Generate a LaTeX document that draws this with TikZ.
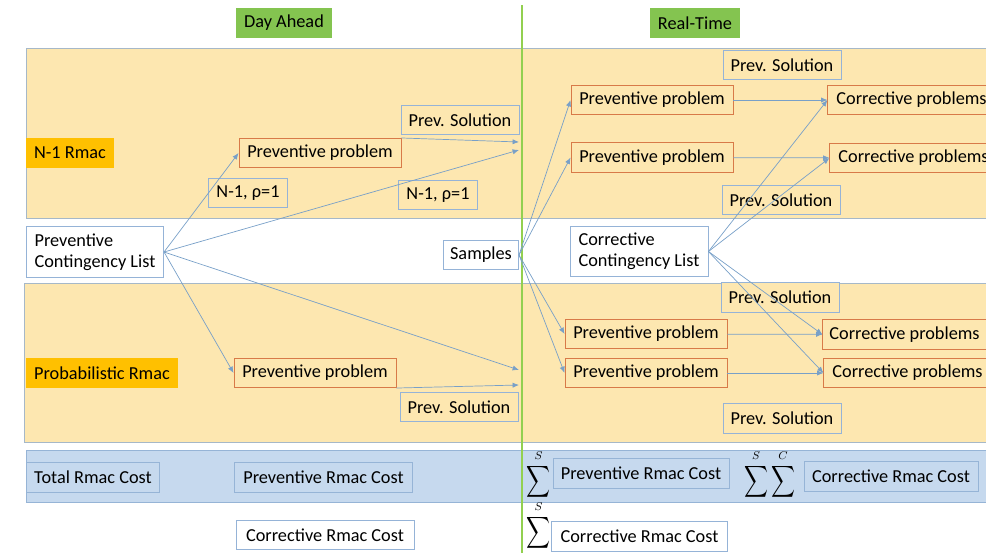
\documentclass[tikz,border=0pt]{standalone}
\usepackage{graphicx}
\usepackage{fontspec}
\setmainfont{Carlito}
\usetikzlibrary{arrows.meta}

\definecolor{bandbeige}{RGB}{253,231,176}
\definecolor{bandedge}{RGB}{166,184,200}
\definecolor{costblue}{RGB}{198,217,238}
\definecolor{costedge}{RGB}{150,180,214}
\definecolor{boxblue}{RGB}{149,179,215}
\definecolor{probred}{RGB}{216,122,72}
\definecolor{tagorange}{RGB}{255,192,0}
\definecolor{phasegreen}{RGB}{132,196,80}
\definecolor{linegreen}{RGB}{146,208,80}
\definecolor{linkblue}{RGB}{120,160,200}
\newcommand{\bigsum}{\resizebox*{0.6cm}{0.88cm}{$\displaystyle\sum$}}
\tikzset{
  every node/.style={font=\fontsize{13}{15}\selectfont},
  box/.style={draw=boxblue, fill=bandbeige, line width=0.6pt, minimum height=0.73cm, inner sep=2pt},
  wbox/.style={box, fill=white},
  probbox/.style={box, draw=probred, minimum width=4.05cm},
  solbox/.style={box, minimum width=2.95cm},
  costbox/.style={box, fill=costblue, draw=costedge},
  tag/.style={fill=tagorange, minimum height=0.74cm, inner sep=3pt},
  phase/.style={fill=phasegreen, minimum height=0.74cm, inner sep=3pt},
  sumsym/.style={inner sep=0pt},
  limtext/.style={font=\fontsize{8}{9}\selectfont, inner sep=0pt, label distance=3pt},
  link/.style={-{Latex[length=1.6mm,width=1.3mm]}, linkblue, line width=0.5pt},
}

\begin{document}
\begin{tikzpicture}[x=0.025cm, y=-0.025cm]
  \useasboundingbox (0,0) rectangle (986,553);
  % bands
  \draw[fill=bandbeige, draw=bandedge] (26,48) rectangle (995,218);
  \draw[fill=bandbeige, draw=bandedge] (24,283) rectangle (995,442);
  \draw[fill=costblue, draw=costedge] (26,450) rectangle (995,502);
  \draw[linegreen, line width=2.1pt] (522,5) -- (522,553);

  % phase labels
  \node[phase, minimum width=2.4cm] (dahead) at (284,23) {Day Ahead};
  \node[phase, minimum width=2.25cm] (rtime) at (695,23) {Real-Time};
  \node[tag, minimum width=2.18cm] (nrmac) at (70,153) {N-1 Rmac};
  \node[tag, minimum width=3.78cm] (prmac) at (102,373) {Probabilistic Rmac};

  % day ahead
  \node[probbox] (daprevA) at (320,153) {Preventive problem};
  \node[probbox] (daprevB) at (315,373) {Preventive problem};
  \node[box, minimum width=1.98cm] (nrhoA) at (248,193) {N-1, ρ=1};
  \node[box, minimum width=1.98cm] (nrhoB) at (438,195) {N-1, ρ=1};
  \node[solbox] (dasolA) at (460,120) {Prev. Solution};
  \node[solbox] (dasolB) at (459,407) {Prev. Solution};
  \node[wbox, align=left, minimum width=3.43cm, minimum height=1.27cm] (pcl) at (95,252) {Preventive\\Contingency List};
  \node[wbox, minimum width=1.88cm] (samples) at (481,255) {Samples};
  \coordinate (inA1) at (519,142);
  \coordinate (inA2) at (519,150);
  \coordinate (inB1) at (519,370);
  \coordinate (inB2) at (519,385);

  % real time
  \node[solbox] (rtsolA) at (782,65) {Prev. Solution};
  \node[probbox] (rtprevA) at (652,100) {Preventive problem};
  \node[probbox] (rtprevB) at (652,157.5) {Preventive problem};
  \node[probbox, minimum width=4.18cm] (rtcorrA) at (911.5,100) {Corrective problems};
  \node[probbox, minimum width=4.18cm] (rtcorrB) at (913.5,158) {Corrective problems};
  \node[solbox] (rtsolB) at (781,200) {Prev. Solution};
  \node[wbox, align=left, minimum width=3.45cm, minimum height=1.27cm] (ccl) at (639,251.5) {Corrective\\Contingency List};
  \node[solbox] (rtsolC) at (780,297.5) {Prev. Solution};
  \node[probbox] (rtprevC) at (646,334) {Preventive problem};
  \node[probbox] (rtprevD) at (646,373) {Preventive problem};
  \node[probbox, minimum width=4.08cm] (rtcorrC) at (904.5,334.5) {Corrective problems};
  \node[probbox, minimum width=4.18cm] (rtcorrD) at (907.5,373) {Corrective problems};
  \node[solbox] (rtsolD) at (782,418.5) {Prev. Solution};

  % costs
  \node[costbox, minimum width=3.33cm] (total) at (93,477.5) {Total Rmac Cost};
  \node[costbox, minimum width=4.43cm] (dacostP) at (323.5,477.5) {Preventive Rmac Cost};
  \node[wbox, minimum width=4.45cm] (dacostC) at (325,535) {Corrective Rmac Cost};
  \node[sumsym, label={[limtext]above:$S$}] (sumA) at (538.5,482) {\bigsum};
  \node[costbox, minimum width=4.4cm] (rtcostP) at (641,473.5) {Preventive Rmac Cost};
  \node[sumsym, label={[limtext]above:$S$}] (sumB1) at (756,482) {\bigsum};
  \node[sumsym, label={[limtext]above:$C$}] (sumB2) at (783,482) {\bigsum};
  \node[costbox, minimum width=4.35cm] (rtcostC) at (891,476.5) {Corrective Rmac Cost};
  \node[sumsym, label={[limtext]above:$S$}] (sumC) at (538.5,533) {\bigsum};
  \node[wbox, minimum width=4.38cm] (rtcostC2) at (639.5,536.5) {Corrective Rmac Cost};

  % links
  \draw[link] (pcl.east) -- (daprevA.west);
  \draw[link] (pcl.east) -- (inA2);
  \draw[link] (pcl.east) -- (daprevB.west);
  \draw[link] (pcl.east) -- (inB1);
  \draw[link] (daprevA.north east) -- (inA1);
  \draw[link] (daprevB.south east) -- (inB2);
  \foreach \p in {rtprevA,rtprevB,rtprevC,rtprevD}
    \draw[link] (samples.east) -- (\p.west);
  \draw[link] (rtprevA) -- (rtcorrA);
  \draw[link] (rtprevB) -- (rtcorrB);
  \draw[link] (rtprevC) -- (rtcorrC);
  \draw[link] (rtprevD) -- (rtcorrD);
  \foreach \c in {rtcorrA,rtcorrB,rtcorrC,rtcorrD}
    \draw[link] (ccl.east) -- (\c.west);
\end{tikzpicture}
\end{document}
